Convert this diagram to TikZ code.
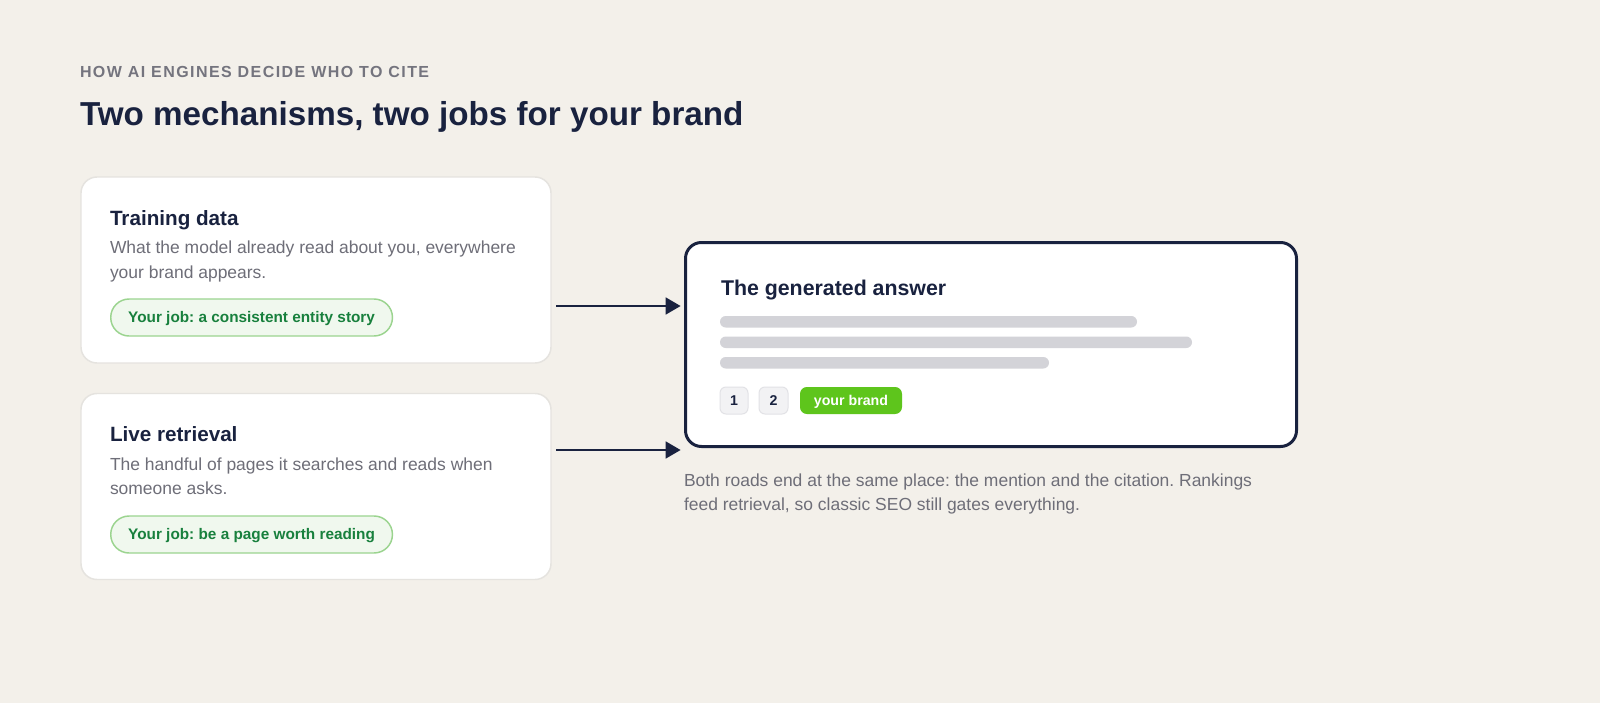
\documentclass[tikz,border=0pt]{standalone}
\usepackage{fontspec}
\setmainfont{Liberation Sans}
\newfontfamily\spacedfont[LetterSpace=9]{Liberation Sans}
\usetikzlibrary{arrows.meta}
\frenchspacing
\definecolor{bgc}{HTML}{F3F0EA}
\definecolor{navy}{HTML}{19223F}
\definecolor{graytxt}{HTML}{6E6E78}
\definecolor{subgray}{HTML}{74747E}
\definecolor{cardborder}{HTML}{E5E3DF}
\definecolor{pillfill}{HTML}{F0F8EE}
\definecolor{pillborder}{HTML}{9BD48F}
\definecolor{pilltext}{HTML}{18803D}
\definecolor{barc}{HTML}{D3D3D8}
\definecolor{chipfill}{HTML}{F2F2F4}
\definecolor{chipborder}{HTML}{E2E2E6}
\definecolor{brandgreen}{HTML}{5EC51C}
\newcommand\fsz[1]{\fontsize{#1}{#1}\selectfont\frenchspacing}
\tikzset{
  x=0.75pt, y=-0.75pt,
  txt/.style={anchor=base west, inner sep=0pt, outer sep=0pt},
  cardbox/.style={draw=cardborder, line width=1.1pt, fill=white, rounded corners=12pt,
    minimum width=352.5pt, minimum height=139.5pt, inner sep=0pt},
  cardtitle/.style={txt, text=navy, font=\fsz{15.5pt}\bfseries},
  desc/.style={txt, text=graytxt, font=\fsz{13.1pt}},
  pill/.style={anchor=west, draw=pillborder, line width=1.1pt, fill=pillfill, rounded corners=13.8pt,
    minimum height=27.75pt, inner xsep=13.1pt, inner ysep=0pt, text=pilltext,
    font=\fsz{11.5pt}\bfseries, text height=9pt, text depth=1.2pt},
  chip/.style={draw=chipborder, line width=0.75pt, fill=chipfill, rounded corners=4.5pt,
    minimum height=20.25pt, inner sep=0pt, text=navy, font=\fsz{10.65pt}\bfseries,
    text height=7.8pt, text depth=0pt},
  brandchip/.style={chip, draw=none, fill=brandgreen, text=white, rounded corners=5.2pt},
  bar/.style={fill=barc, rounded corners=4.3pt},
  arr/.style={draw=navy, line width=2pt, -{Triangle[length=11.25pt,width=12.5pt]}, shorten >=2.5pt}
}
\begin{document}
\begin{tikzpicture}
\fill[bgc] (0,0) rectangle (1600,703);
\useasboundingbox (0,0) rectangle (1600,703);

% heading
\node[txt, text=subgray, font=\fsz{12pt}\spacedfont\bfseries] (kicker) at (80,77.7) {HOW AI ENGINES DECIDE WHO TO CITE};
\node[txt, text=navy, font=\fsz{24.9pt}\bfseries] (title) at (80,125) {Two mechanisms, two jobs for your brand};

% card 1
\node[cardbox] (card1) at (316,270) {};
\node[cardtitle] (c1t) at (110,225) {Training data};
\node[desc] (c1d1) at (110,253) {What the model already read about you, everywhere};
\node[desc] (c1d2) at (110,278) {your brand appears.};
\node[pill] (c1p) at (110,317.5) {Your job: a consistent entity story};

% card 2
\node[cardbox] (card2) at (316,486.5) {};
\node[cardtitle] (c2t) at (110,441) {Live retrieval};
\node[desc] (c2d1) at (110,470) {The handful of pages it searches and reads when};
\node[desc] (c2d2) at (110,494) {someone asks.};
\node[pill] (c2p) at (110,534.5) {Your job: be a page worth reading};

% answer box
\node[draw=navy, line width=2.25pt, fill=white, rounded corners=12pt,
  minimum width=458.25pt, minimum height=153pt, inner sep=0pt] (answer) at (991,344.5) {};
\node[txt, text=navy, font=\fsz{16pt}\bfseries] (anst) at (721,295) {The generated answer};
\fill[bar] (720,316) rectangle (1137,327.5);
\fill[bar] (720,336.5) rectangle (1192,348);
\fill[bar] (720,357) rectangle (1049,368.5);
\node[chip, minimum width=21pt] (chip1) at (734,400.5) {1};
\node[chip, minimum width=21.75pt] (chip2) at (773.5,400.5) {2};
\node[brandchip, minimum width=76.5pt] (brand) at (851,400.5) {your brand};

% arrows
\coordinate (a1) at (556,306);
\coordinate (a2) at (556,450);
\draw[arr] (a1) -- (answer.west |- a1);
\draw[arr] (a2) -- (answer.west |- a2);

% caption
\node[desc] (cap1) at (684,486) {Both roads end at the same place: the mention and the citation. Rankings};
\node[desc] (cap2) at (684,510) {feed retrieval, so classic SEO still gates everything.};
\end{tikzpicture}
\end{document}
